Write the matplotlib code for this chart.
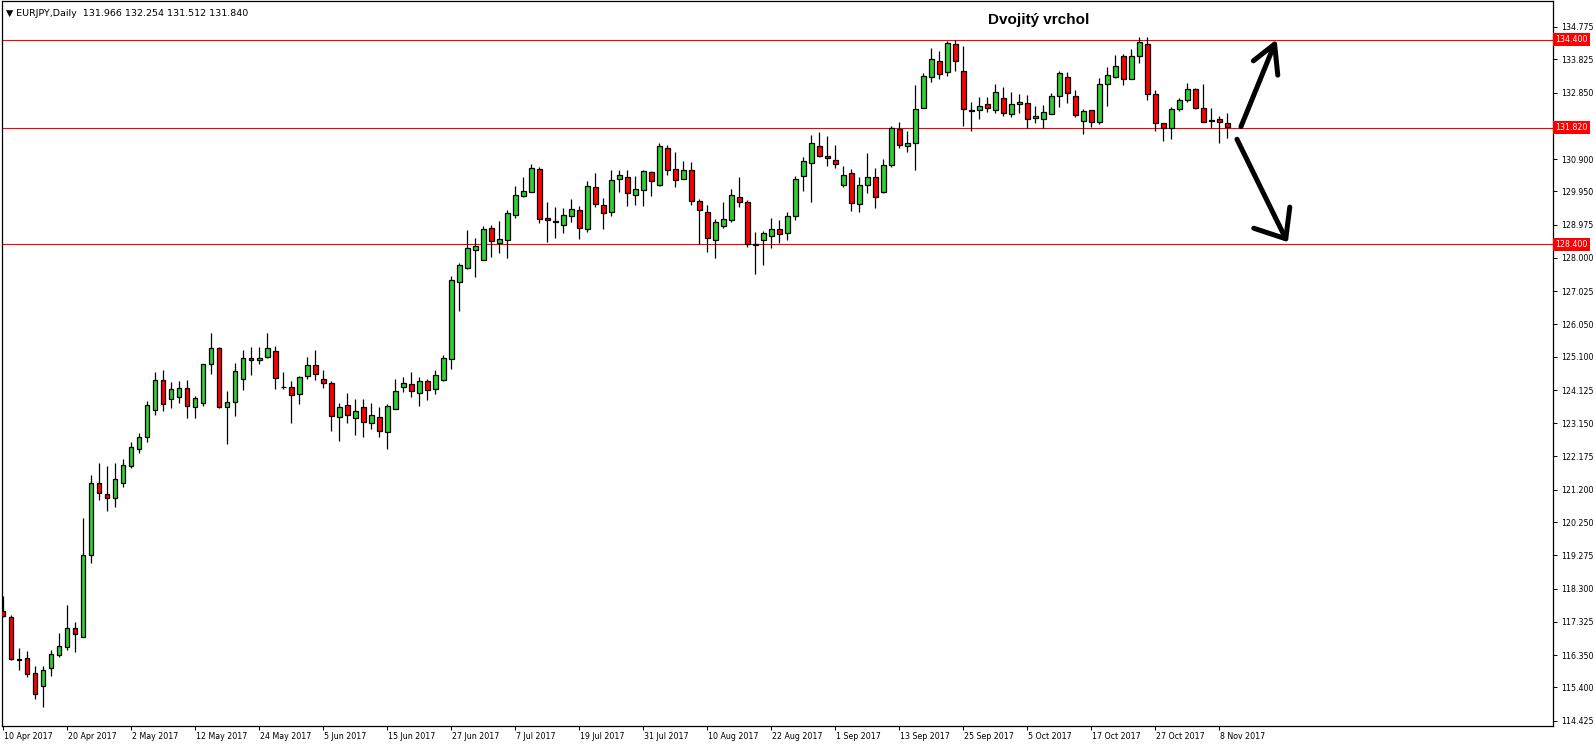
import matplotlib
matplotlib.use("Agg")
import matplotlib.pyplot as plt
import matplotlib.transforms as mtransforms

# EURJPY daily candles, 10 Apr 2017 - 9 Nov 2017
opens = [117.65, 117.46, 116.24, 116.26, 115.82, 115.44, 115.97, 116.35, 116.58, 117.14,
         116.87, 119.28, 121.39, 121.07, 120.95, 121.39, 121.89, 122.39, 122.74, 123.54,
         124.43, 123.86, 123.91, 124.18, 123.64, 123.74, 124.88, 125.35, 123.62, 123.77,
         124.44, 125.06, 125.00, 125.08, 125.26, 124.22, 124.21, 124.00, 124.53, 124.85,
         124.44, 124.32, 123.33, 123.68, 123.30, 123.62, 123.15, 123.33, 122.89, 123.56,
         124.21, 124.29, 124.03, 124.38, 124.15, 124.41, 125.03, 127.28, 127.71, 128.22,
         127.93, 128.87, 128.43, 128.52, 129.25, 129.81, 129.92, 130.60, 129.16, 129.07,
         128.96, 129.22, 129.40, 128.84, 130.07, 129.54, 129.34, 130.31, 130.36, 129.84,
         129.98, 130.51, 130.13, 131.21, 130.60, 130.31, 130.57, 129.66, 129.34, 128.52,
         128.93, 129.10, 129.78, 129.63, 128.37, 128.52, 128.63, 128.84, 128.72, 129.22,
         130.39, 130.77, 131.27, 130.98, 130.86, 130.13, 130.48, 129.57, 130.13, 130.36,
         129.93, 130.72, 131.77, 131.27, 131.36, 132.39, 133.30, 133.77, 133.44, 134.26,
         133.47, 132.34, 132.33, 132.51, 132.33, 132.68, 132.21, 132.51, 132.53, 132.09,
         132.06, 132.21, 132.74, 133.30, 132.74, 132.01, 132.33, 131.98, 133.09, 133.30,
         133.91, 133.24, 133.91, 134.26, 132.80, 131.95, 131.80, 132.36, 132.62, 132.94,
         132.39, 132.03, 132.07, 131.966]
highs = [118.09, 117.52, 116.56, 116.47, 116.03, 116.03, 116.50, 117.00, 117.82, 117.32,
         120.37, 121.63, 121.99, 121.90, 121.99, 122.09, 122.59, 122.86, 123.80, 124.65,
         124.70, 124.35, 124.40, 124.42, 123.95, 124.88, 125.80, 125.38, 124.10, 124.92,
         125.29, 125.38, 125.38, 125.80, 125.41, 124.65, 124.38, 124.53, 125.08, 125.29,
         124.70, 124.38, 123.74, 124.03, 123.85, 123.85, 123.74, 123.62, 123.71, 124.44,
         124.50, 124.65, 124.50, 124.44, 124.70, 125.14, 127.47, 127.84, 128.81, 128.58,
         128.93, 128.96, 129.07, 129.40, 130.10, 130.36, 130.75, 130.66, 129.63, 129.48,
         129.46, 129.72, 129.51, 130.25, 130.48, 129.75, 130.57, 130.57, 130.57, 130.39,
         130.57, 130.54, 131.36, 131.30, 131.10, 130.84, 130.81, 129.72, 129.54, 129.13,
         129.63, 130.01, 130.36, 129.69, 128.75, 128.78, 129.16, 129.10, 129.34, 130.39,
         130.95, 131.60, 131.68, 131.57, 131.30, 130.69, 130.60, 130.36, 131.07, 130.63,
         130.89, 131.86, 131.98, 131.71, 133.06, 133.41, 134.15, 134.06, 134.35, 134.38,
         134.21, 132.56, 132.71, 132.71, 133.09, 133.00, 132.86, 132.80, 132.77, 132.45,
         132.48, 132.83, 133.47, 133.44, 132.92, 132.36, 132.33, 133.27, 133.59, 133.94,
         133.97, 134.12, 134.47, 134.47, 132.92, 131.95, 132.42, 132.68, 133.12, 132.97,
         133.09, 132.39, 132.15, 132.254]
lows = [117.46, 116.20, 115.92, 115.72, 115.07, 114.84, 115.75, 116.28, 116.51, 116.45,
        116.87, 119.06, 120.91, 120.59, 120.68, 121.29, 121.85, 122.29, 122.60, 123.40,
        123.50, 123.60, 123.75, 123.29, 123.29, 123.67, 124.58, 123.61, 122.55, 123.37,
        124.12, 124.56, 124.88, 125.06, 124.15, 124.15, 123.15, 123.71, 124.44, 124.41,
        124.17, 122.91, 122.62, 123.15, 122.80, 122.76, 122.97, 122.76, 122.39, 123.56,
        124.06, 123.91, 123.65, 123.82, 124.00, 124.38, 124.73, 126.45, 127.68, 127.43,
        127.93, 128.02, 128.14, 127.99, 129.16, 129.78, 129.92, 129.01, 128.46, 128.58,
        128.72, 129.04, 128.55, 128.75, 129.48, 128.84, 129.22, 129.92, 129.51, 129.54,
        129.51, 129.81, 130.10, 130.42, 130.07, 130.31, 129.56, 128.40, 128.18, 128.01,
        128.89, 129.04, 129.48, 128.33, 127.54, 127.80, 128.30, 128.45, 128.52, 129.10,
        129.95, 129.63, 130.95, 130.69, 130.63, 130.07, 129.37, 129.34, 129.90, 129.45,
        129.90, 130.66, 131.21, 131.10, 130.57, 132.39, 133.15, 133.24, 133.33, 133.47,
        131.88, 131.71, 132.07, 132.27, 132.24, 132.15, 132.12, 132.24, 131.80, 131.95,
        131.80, 132.21, 132.42, 132.53, 132.12, 131.62, 131.83, 131.92, 132.45, 133.27,
        133.06, 133.24, 133.71, 132.62, 131.71, 131.42, 131.48, 132.30, 132.56, 132.36,
        131.98, 131.80, 131.36, 131.512]
closes = [117.50, 116.23, 116.22, 115.79, 115.20, 115.91, 116.38, 116.61, 117.14, 116.96,
          119.28, 121.39, 121.10, 120.95, 121.51, 121.92, 122.45, 122.74, 123.68, 124.43,
          123.71, 124.16, 124.18, 123.65, 123.88, 124.88, 125.35, 123.64, 123.77, 124.67,
          125.06, 125.00, 125.06, 125.35, 124.47, 124.20, 123.97, 124.50, 124.85, 124.59,
          124.32, 123.35, 123.62, 123.38, 123.50, 123.18, 123.38, 122.91, 123.65, 124.09,
          124.32, 124.09, 124.38, 124.12, 124.56, 125.06, 127.34, 127.78, 128.28, 128.34,
          128.84, 128.49, 128.55, 129.31, 129.84, 129.95, 130.63, 129.13, 129.10, 129.04,
          129.25, 129.43, 128.87, 130.10, 129.57, 129.31, 130.28, 130.42, 129.89, 130.01,
          130.54, 130.25, 131.27, 130.57, 130.28, 130.57, 129.66, 129.40, 128.58, 129.04,
          129.13, 129.84, 129.63, 128.42, 128.40, 128.72, 128.84, 128.69, 129.22, 130.31,
          130.83, 131.36, 130.98, 130.92, 130.75, 130.42, 129.60, 130.13, 130.36, 129.78,
          130.72, 131.80, 131.30, 131.36, 132.36, 133.33, 133.82, 133.39, 134.29, 133.77,
          132.36, 132.30, 132.45, 132.39, 132.86, 132.24, 132.51, 132.56, 132.06, 132.15,
          132.27, 132.74, 133.41, 132.83, 132.18, 132.30, 131.98, 133.09, 133.35, 133.62,
          133.24, 133.91, 134.32, 132.80, 131.95, 131.80, 132.36, 132.62, 132.94, 132.39,
          131.98, 132.01, 131.98, 131.840]

date_labels = ['10 Apr 2017', '20 Apr 2017', '2 May 2017', '12 May 2017', '24 May 2017',
               '5 Jun 2017', '15 Jun 2017', '27 Jun 2017', '7 Jul 2017', '19 Jul 2017',
               '31 Jul 2017', '10 Aug 2017', '22 Aug 2017', '1 Sep 2017', '13 Sep 2017',
               '25 Sep 2017', '5 Oct 2017', '17 Oct 2017', '27 Oct 2017', '8 Nov 2017']
# 131.875 sits under the 131.820 box in the reference, so it is left out
price_ticks = [114.425, 115.400, 116.350, 117.325, 118.300, 119.275, 120.250, 121.200,
               122.175, 123.150, 124.125, 125.100, 126.050, 127.025, 128.000, 128.975,
               129.950, 130.900, 132.850, 133.825, 134.775]
levels = [134.400, 131.820, 128.400]

# arrows drawn on the chart: (bar index, price) of tail, tip and the two barbs
arrow_up = [(154.7, 131.85), (158.9, 134.27), (156.25, 133.78), (159.3, 133.36)]
arrow_down = [(154.2, 131.48), (160.3, 128.56), (156.3, 128.87), (160.8, 129.49)]

GREEN = '#32CD32'
RED = '#FF0000'

fig = plt.figure(figsize=(15.96, 7.44), dpi=100)
ax = fig.add_axes([2 / 1596, 18 / 744, 1551 / 1596, 725 / 744])

n = len(opens)
idx = list(range(n))
bottoms = [min(o, c) for o, c in zip(opens, closes)]
heights = [abs(c - o) for o, c in zip(opens, closes)]
colors = [GREEN if c >= o else RED for o, c in zip(opens, closes)]

ax.vlines(idx, lows, highs, color='black', linewidth=0.9, zorder=2)
ax.bar(idx, heights, bottom=bottoms, width=0.55, color=colors,
       edgecolor='black', linewidth=0.9, zorder=3)

for lv in levels:
    ax.axhline(lv, color=RED, linewidth=0.8, zorder=1)

ax.set_xlim(-0.16, 193.7)
ax.set_ylim(114.27, 135.535)

# axes look like MT4
for s in ax.spines.values():
    s.set_linewidth(0.9)
ax.yaxis.tick_right()
ax.set_yticks(price_ticks)
ax.set_yticklabels([f'{v:.3f}' for v in price_ticks])
ax.tick_params(axis='y', direction='out', length=3, pad=3, labelsize=5.7, width=0.7)
ax.set_xticks(list(range(0, n, 8))[:len(date_labels)])
ax.set_xticklabels(date_labels)
ax.tick_params(axis='x', direction='out', length=3, pad=1, labelsize=5.7, width=0.7)
offset = mtransforms.ScaledTranslation(1 / 100, 0, fig.dpi_scale_trans)
for lab in ax.get_xticklabels():
    lab.set_ha('left')
    lab.set_transform(lab.get_transform() + offset)

# red price boxes on the right scale
ytrans = mtransforms.blended_transform_factory(ax.transAxes, ax.transData)
for lv in levels:
    ax.text(1.0015, lv, f'{lv:.3f}', transform=ytrans, color='white', fontsize=5.7,
            va='center', ha='left', clip_on=False, zorder=10,
            bbox=dict(boxstyle='square,pad=0.25', facecolor=RED, edgecolor='none'))

# header
ax.text(0.0025, 0.989, '\u25BC EURJPY,Daily  131.966 132.254 131.512 131.840',
        transform=ax.transAxes, fontsize=6.8, va='top', ha='left')

# title
ax.text(0.6685, 0.974, 'Dvojitý vrchol', transform=ax.transAxes, fontsize=11,
        fontweight='bold', family='Liberation Sans', ha='center', va='center')

# hand-drawn arrows
for arr in (arrow_up, arrow_down):
    tail, tip, b1, b2 = arr
    kw = dict(color='black', linewidth=3.6, solid_capstyle='round',
              solid_joinstyle='round', zorder=5)
    ax.plot([tail[0], tip[0]], [tail[1], tip[1]], **kw)
    ax.plot([b1[0], tip[0], b2[0]], [b1[1], tip[1], b2[1]], **kw)

fig.savefig('out.png', dpi=100, facecolor='white')
